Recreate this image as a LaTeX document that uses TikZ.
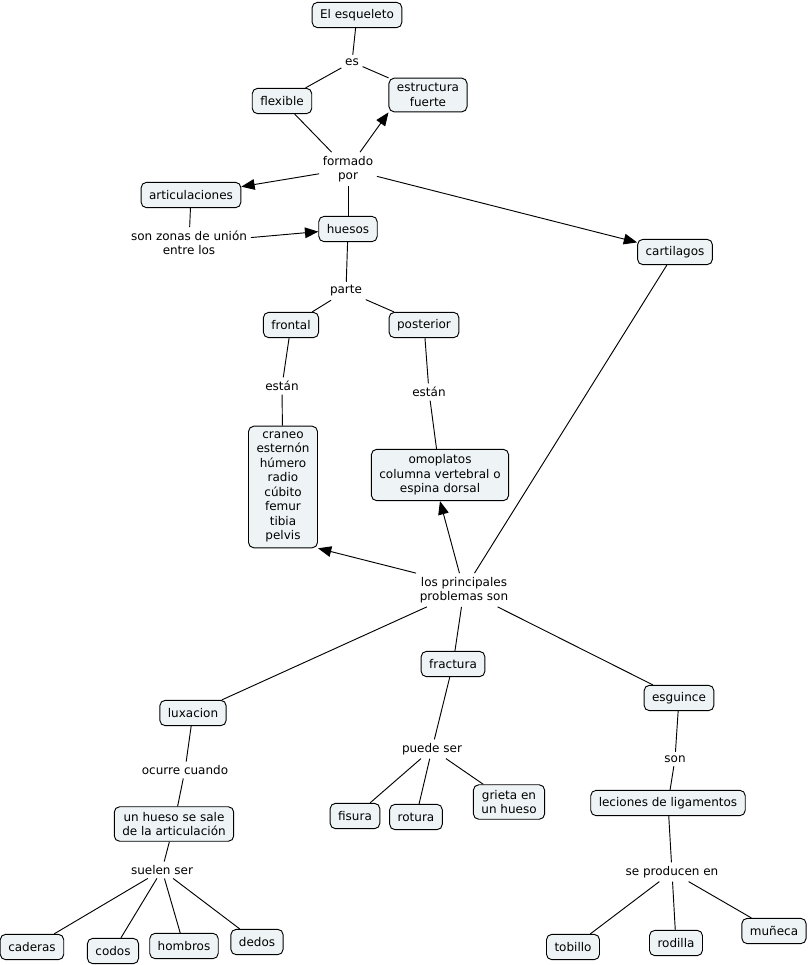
\documentclass[tikz,border=0pt]{standalone}
\usepackage{fontspec}
\setmainfont{DejaVu Sans}
\usetikzlibrary{arrows.meta}
\definecolor{cmapfill}{HTML}{EEF4F6}
\tikzset{
  concept/.style={draw,rounded corners=4pt,fill=cmapfill,align=center,
    inner xsep=6pt,inner ysep=4pt,minimum height=19pt,line width=0.7pt,
    font=\fontsize{9}{10.9}\selectfont},
  phrase/.style={align=center,inner sep=2.5pt,font=\fontsize{9}{10.9}\selectfont},
  flecha/.style={-{Triangle[length=10pt,width=8pt]}}
}
\begin{document}
\begin{tikzpicture}[x=0.75pt,y=-0.75pt,line width=0.7pt]
\useasboundingbox (0,0) rectangle (808,965);
% concept map of the skeleton
\node[concept] (esq) at (357,15) {El esqueleto};
\node[phrase] (es) at (352,62) {es};
\node[concept] (flex) at (282,101) {flexible};
\node[concept] (estr) at (428,95) {estructura\\fuerte};
\node[phrase] (form) at (348,169) {formado\\por};
\node[concept] (art) at (191,195) {articulaciones};
\node[concept] (hue) at (348,229) {huesos};
\node[phrase] (zon) at (189,243) {son zonas de unión\\entre los};
\node[concept] (cart) at (675,252) {cartilagos};
\node[phrase] (parte) at (346,291) {parte};
\node[concept] (front) at (291,325) {frontal};
\node[concept] (post) at (424,325) {posterior};
\node[phrase] (estA) at (282,386) {están};
\node[phrase] (estB) at (429,392) {están};
\node[concept] (lista) at (283,487) {craneo\\esternón\\húmero\\radio\\cúbito\\femur\\tibia\\pelvis};
\node[concept] (omop) at (440,475) {omoplatos\\columna vertebral o\\espina dorsal};
\node[phrase] (prob) at (464,590) {los principales\\problemas son};

% problems
\node[concept] (lux) at (193,713) {luxacion};
\node[concept] (frac) at (453,664) {fractura};
\node[concept] (esg) at (679,698) {esguince};
\node[phrase] (ocu) at (185,770) {ocurre cuando};
\node[phrase] (pue) at (432,749) {puede ser};
\node[phrase] (son) at (675,759) {son};
\node[concept] (sale) at (174,824) {un hueso se sale\\de la articulación};
\node[concept] (lec) at (668,803) {leciones de ligamentos};
\node[phrase] (sue) at (162,870) {suelen ser};
\node[phrase] (prod) at (672,872) {se producen en};
\node[concept] (fis) at (355,816) {fisura};
\node[concept] (rot) at (416,817) {rotura};
\node[concept] (gri) at (509,802) {grieta en\\un hueso};
\node[concept] (cad) at (32,947) {caderas};
\node[concept] (cod) at (113,951) {codos};
\node[concept] (hom) at (184,946) {hombros};
\node[concept] (ded) at (257,942) {dedos};
\node[concept] (tob) at (573,947) {tobillo};
\node[concept] (rod) at (676,943) {rodilla};
\node[concept] (mun) at (774,931) {muñeca};

% Connections
\draw (esq) -- (es);
\draw (es) -- (flex);
\draw (es) -- (estr);
\draw (flex) -- (form);
\draw[flecha] (form) -- (estr.south west);
\draw[flecha] (form) -- (art);
\draw (form) -- (hue);
\draw[flecha] (form) -- (cart);
\draw (art) -- (zon);
\draw[flecha] (zon) -- (hue);
\draw (hue) -- (parte);
\draw (parte) -- (front);
\draw (parte) -- (post);
\draw (front) -- (estA);
\draw (estA) -- (lista);
\draw (post) -- (estB);
\draw (estB) -- (omop);
\draw (cart) -- (prob);
\draw[flecha] (prob.north west) -- (lista.south east);
\draw[flecha] (prob) -- (omop.south);
\draw (prob) -- (lux);
\draw (prob) -- (frac);
\draw (prob) -- (esg);
\draw (lux) -- (ocu);
\draw (ocu) -- (sale);
\draw (sale) -- (sue);
\foreach \n in {cad,cod,hom,ded}
  \draw (sue) -- (\n);
\draw (frac) -- (pue);
\foreach \n in {fis,rot,gri}
  \draw (pue) -- (\n);
\draw (esg) -- (son);
\draw (son) -- (lec);
\draw (lec) -- (prod);
\foreach \n in {tob,rod,mun}
  \draw (prod) -- (\n);
\end{tikzpicture}
\end{document}
